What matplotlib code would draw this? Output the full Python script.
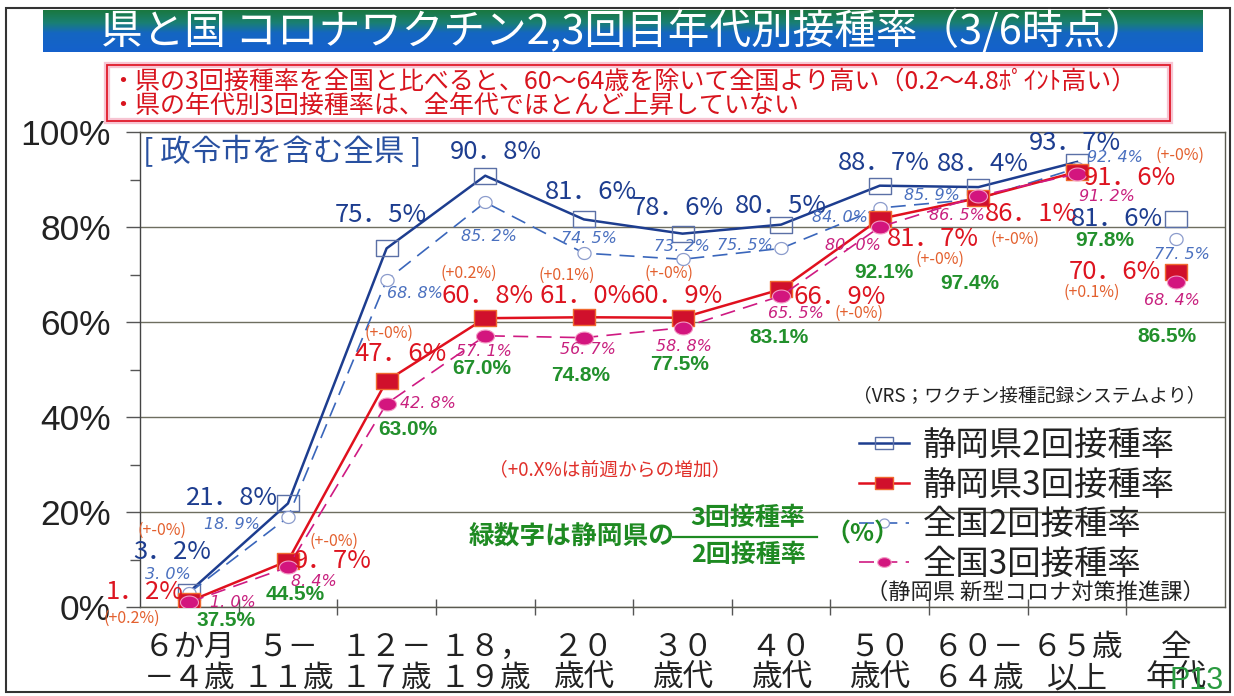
import numpy as np
import matplotlib
matplotlib.use('Agg')
import matplotlib.pyplot as plt
from matplotlib.path import Path
from matplotlib.ticker import FixedLocator
from matplotlib.patches import Rectangle
from matplotlib.lines import Line2D

JP = ['Noto Sans CJK JP', 'DejaVu Sans']
plt.rcParams['font.family'] = JP

# ---------------- data ----------------
categories = ['６か月\n－４歳', '５－\n１１歳', '１２－\n１７歳', '１８，\n１９歳', '２０\n歳代',
              '３０\n歳代', '４０\n歳代', '５０\n歳代', '６０－\n６４歳', '６５歳\n以上', '全\n年代']
pref2 = [3.2, 21.8, 75.5, 90.8, 81.6, 78.6, 80.5, 88.7, 88.4, 93.7, 81.6]   # 静岡県2回接種率
pref3 = [1.2, 9.7, 47.6, 60.8, 61.0, 60.9, 66.9, 81.7, 86.1, 91.6, 70.6]    # 静岡県3回接種率
nat2 = [3.0, 18.9, 68.8, 85.2, 74.5, 73.2, 75.5, 84.0, 85.9, 92.4, 77.5]    # 全国2回接種率
nat3 = [1.0, 8.4, 42.8, 57.1, 56.7, 58.8, 65.5, 80.0, 86.5, 91.2, 68.4]     # 全国3回接種率
ratio = [37.5, 44.5, 63.0, 67.0, 74.8, 77.5, 83.1, 92.1, 97.4, 97.8, 86.5]  # 3回/2回 (静岡県)
weekly = ['(+0.2%)', '(+-0%)', '(+-0%)', '(+0.2%)', '(+0.1%)', '(+-0%)',
          '(+-0%)', '(+-0%)', '(+-0%)', '(+-0%)', '(+0.1%)']
weekly_extra = '(+-0%)'
series_names = ['静岡県2回接種率', '静岡県3回接種率', '全国2回接種率', '全国3回接種率']
yticks = [0, 20, 40, 60, 80, 100]

# ---------------- label offsets (pixels) ----------------
off_p2 = [(-17, 40), (-56, 5), (-6, 33), (11, 24), (7, 27), (-5, 26), (0, 19), (4, 23), (4, 23), (-2, 19), (-59, 0)]
off_p3 = [(-45, 9), (45, 0), (14, 27), (2, 22), (2, 21), (-6, 22), (59, -8), (53, -20), (53, -16), (53, -6), (-61, 0)]
off_n2 = [(-21, 18), (-56, -7), (28, -13), (4, -34), (5, 15), (-1, 13), (-36, 3), (-40, -10), (-46, 3), (38, 11), (6, -16)]
off_n3 = [(44, 0), (26, -14), (41, 0), (-1, -16), (4, -12), (1, -19), (15, -18), (-27, -19), (-21, -19), (30, -23), (-4, -18)]
off_ratio = [(37, -19), (7, -34), (21, -49), (-3, -50), (-3, -58), (-3, -47), (-2, -48), (4, -54), (-9, -85), (28, -69), (-9, -65)]
off_week = [(-58, -17), (46, 20), (2, 48), (-16, 45), (-17, 42), (-14, 44), (78, -24), (60, -40), (37, -41), (103, 17), (-84, -21)]

W, H = 1234, 696
fig = plt.figure(figsize=(W / 100, H / 100), dpi=100)
fig.patch.set_facecolor('white')


def fx(px):
    return px / W


def fy(py):
    return 1 - py / H


ax = fig.add_axes([fx(140), fy(607), fx(1225) - fx(140), fy(132) - fy(607)])
x = np.arange(len(categories))

# custom markers
rect = Path([(-1.35, -1), (1.35, -1), (1.35, 1), (-1.35, 1), (-1.35, -1)],
            [Path.MOVETO, Path.LINETO, Path.LINETO, Path.LINETO, Path.CLOSEPOLY])
t = np.linspace(0, 2 * np.pi, 40)
ell_wide = Path(np.column_stack([1.4 * np.cos(t), np.sin(t)]))
ell_2 = Path(np.column_stack([1.1 * np.cos(t), np.sin(t)]))

C_P2 = '#1d3d8f'
C_P3 = '#e0101e'
C_N2 = '#3a66bb'
C_N3 = '#cf1a82'

n = len(categories) - 1  # last category (全年代) is not connected
hp2, = ax.plot(x[:n], pref2[:n], color=C_P2, lw=1.8, marker=rect, ms=16.5,
               mfc='none', mec='#5b70a6', mew=1.0, zorder=4)
ax.plot(x[n:], pref2[n:], ls='none', marker=rect, ms=16.5, mfc='none', mec='#5b70a6', mew=1.0, zorder=4)
hn2, = ax.plot(x[:n], nat2[:n], color=C_N2, lw=1.2, ls=(0, (9, 5)), marker=ell_2, ms=9.5,
               mfc='white', mec='#8c9ccc', mew=0.9, zorder=4.5)
ax.plot(x[n:], nat2[n:], ls='none', marker=ell_2, ms=9.5, mfc='white', mec='#8c9ccc', mew=0.9, zorder=4.5)
hp3, = ax.plot(x[:n], pref3[:n], color=C_P3, lw=1.8, marker=rect, ms=16.5,
               mfc='#d0102c', mec='#f06a30', mew=1.0, zorder=5)
ax.plot(x[n:], pref3[n:], ls='none', marker=rect, ms=16.5, mfc='#d0102c', mec='#f06a30', mew=1.0, zorder=5)
hn3, = ax.plot(x[:n], nat3[:n], color=C_N3, lw=1.2, ls=(0, (9, 5)), marker=ell_wide, ms=13,
               mfc='#d3157e', mec='#f39ac4', mew=0.8, zorder=6)
ax.plot(x[n:], nat3[n:], ls='none', marker=ell_wide, ms=13, mfc='#d3157e', mec='#f39ac4', mew=0.8, zorder=6)

ax.set_xlim(-0.5, len(categories) - 0.5)
ax.set_ylim(0, 100)

# axes styling
ax.set_axisbelow(True)
ax.yaxis.grid(True, color='#6e6e60', lw=1.0)
for s in ax.spines.values():
    s.set_color('#5a5a50')
    s.set_linewidth(1.0)
ax.spines['left'].set_color('#444444')
ax.set_yticks(yticks)
ax.set_yticklabels([f'{v}%' for v in yticks], fontsize=25.5, family=['Liberation Sans'], color='#222222')
ax.yaxis.set_minor_locator(FixedLocator([10, 30, 50, 70, 90]))
ax.tick_params(axis='y', which='major', length=10, width=1, color='#555555', pad=11)
ax.tick_params(axis='y', which='minor', length=7, width=1, color='#555555')
ax.set_xticks(x)
ax.set_xticklabels(categories, fontsize=22, color='#222222', linespacing=1.0)
ax.xaxis.set_minor_locator(FixedLocator(np.arange(0.5, len(categories) - 0.5, 1)))
ax.tick_params(axis='x', which='major', length=0, pad=18)
ax.tick_params(axis='x', which='minor', length=12, width=1, color='#555555', direction='inout')


def lab(i, v, text, off, **kw):
    ax.annotate(text, xy=(i, v), xytext=off, textcoords='offset pixels', ha='center', va='center',
                annotation_clip=False, zorder=8, **kw)


def big(v):
    return f'{v:.1f}%'.replace('.', '．')


def small(v):
    return f'{v:.1f}%'.replace('.', '. ')


for i in range(len(categories)):
    lab(i, pref2[i], big(pref2[i]), off_p2[i], fontsize=18.5, color='#1d3d8f')
    lab(i, pref3[i], big(pref3[i]), off_p3[i], fontsize=18.5, color='#dd1420')
    lab(i, nat2[i], small(nat2[i]), off_n2[i], fontsize=11.5, color='#4a70bf',
        family=['DejaVu Sans'], style='italic')
    lab(i, nat3[i], small(nat3[i]), off_n3[i], fontsize=11.5, color='#c8207e',
        family=['DejaVu Sans'], style='italic')
    lab(i, pref3[i], f'{ratio[i]:.1f}%', off_ratio[i], fontsize=15, color='#22902c',
        family=['Liberation Sans'], weight='bold')
    lab(i, pref3[i], weekly[i], off_week[i], fontsize=11.5, color='#e3602e')
lab(0, pref2[0], weekly_extra, (-27, 61), fontsize=11.5, color='#e3602e')

# legend
leg = ax.legend(handles=[hp2, hp3, hn2, hn3], labels=series_names, loc='upper left',
                bbox_to_anchor=(fx(859), fy(428)), bbox_transform=fig.transFigure,
                frameon=False, fontsize=24, handlelength=1.5, handletextpad=0.4,
                labelspacing=0.14, borderpad=0, borderaxespad=0, markerscale=0.75)
for tx in leg.get_texts():
    tx.set_color('#222222')

# annotations in the plot
fig.text(fx(143), fy(152), '[ 政令市を含む全県 ]', fontsize=22, color='#2850a0', va='center', ha='left')
fig.text(fx(1205), fy(397), '（VRS；ワクチン接種記録システムより）', fontsize=13.5, color='#222222',
         va='center', ha='right')
fig.text(fx(1205), fy(592), '（静岡県 新型コロナ対策推進課）', fontsize=16, color='#222222',
         va='center', ha='right')
fig.text(fx(610), fy(470), '（+0.X%は前週からの増加）', fontsize=13.5, color='#e0302a',
         va='center', ha='center')
GREEN = '#1e8a22'
fig.text(fx(675), fy(537), '緑数字は静岡県の', fontsize=18.5, color=GREEN, weight='bold',
         va='center', ha='right')
fig.text(fx(748), fy(518), '3回接種率', fontsize=18, color=GREEN, weight='bold', va='center', ha='center')
fig.text(fx(748), fy(555), '2回接種率', fontsize=18, color=GREEN, weight='bold', va='center', ha='center')
fig.add_artist(Line2D([fx(673), fx(817)], [fy(537), fy(537)], color=GREEN, lw=1.6, transform=fig.transFigure))
fig.text(fx(862), fy(535), '（%）', fontsize=18, color=GREEN, weight='bold', va='center', ha='center')

# title banner
bax = fig.add_axes([fx(43), fy(52), fx(1203) - fx(43), fy(10) - fy(52)])
stops = np.array([0.0, 0.3, 0.55, 1.0])
cols = np.array([[0.10, 0.47, 0.25], [0.10, 0.50, 0.45], [0.08, 0.40, 0.76], [0.08, 0.38, 0.80]])
rows = np.linspace(0, 1, 60)
grad = np.stack([np.interp(rows, stops, cols[:, k]) for k in range(3)], axis=1)[:, None, :]
bax.imshow(grad, aspect='auto', extent=[0, 1, 0, 1])
bax.axis('off')
fig.text(fx(624), fy(31), '県と国 コロナワクチン2,3回目年代別接種率（3/6時点）', fontsize=30,
         color='white', va='center', ha='center', zorder=10)

# summary box
fig.patches.append(Rectangle((fx(107), fy(121)), fx(1170) - fx(107), fy(65) - fy(121),
                             transform=fig.transFigure, fill=False, ec='#f7c4d2', lw=4.5, zorder=1))
fig.patches.append(Rectangle((fx(107), fy(121)), fx(1170) - fx(107), fy(65) - fy(121),
                             transform=fig.transFigure, fill=False, ec='#e01a2a', lw=1.3, zorder=2))
fig.text(fx(110), fy(82), '・県の3回接種率を全国と比べると、60～64歳を除いて全国より高い（0.2～4.8ﾎﾟｲﾝﾄ高い）',
         fontsize=18, color='#d8141e', va='center', ha='left')
fig.text(fx(110), fy(106), '・県の年代別3回接種率は、全年代でほとんど上昇していない',
         fontsize=18, color='#d8141e', va='center', ha='left')

# outer frame and page number
fig.patches.append(Rectangle((fx(6), fy(692)), fx(1230) - fx(6), fy(8) - fy(692),
                             transform=fig.transFigure, fill=False, ec='#333333', lw=1.5))
fig.text(fx(1197), fy(681), 'P13', fontsize=22, color='#2a9a40', family=['Liberation Sans'],
         va='center', ha='center')

fig.savefig('out.png', dpi=100)
